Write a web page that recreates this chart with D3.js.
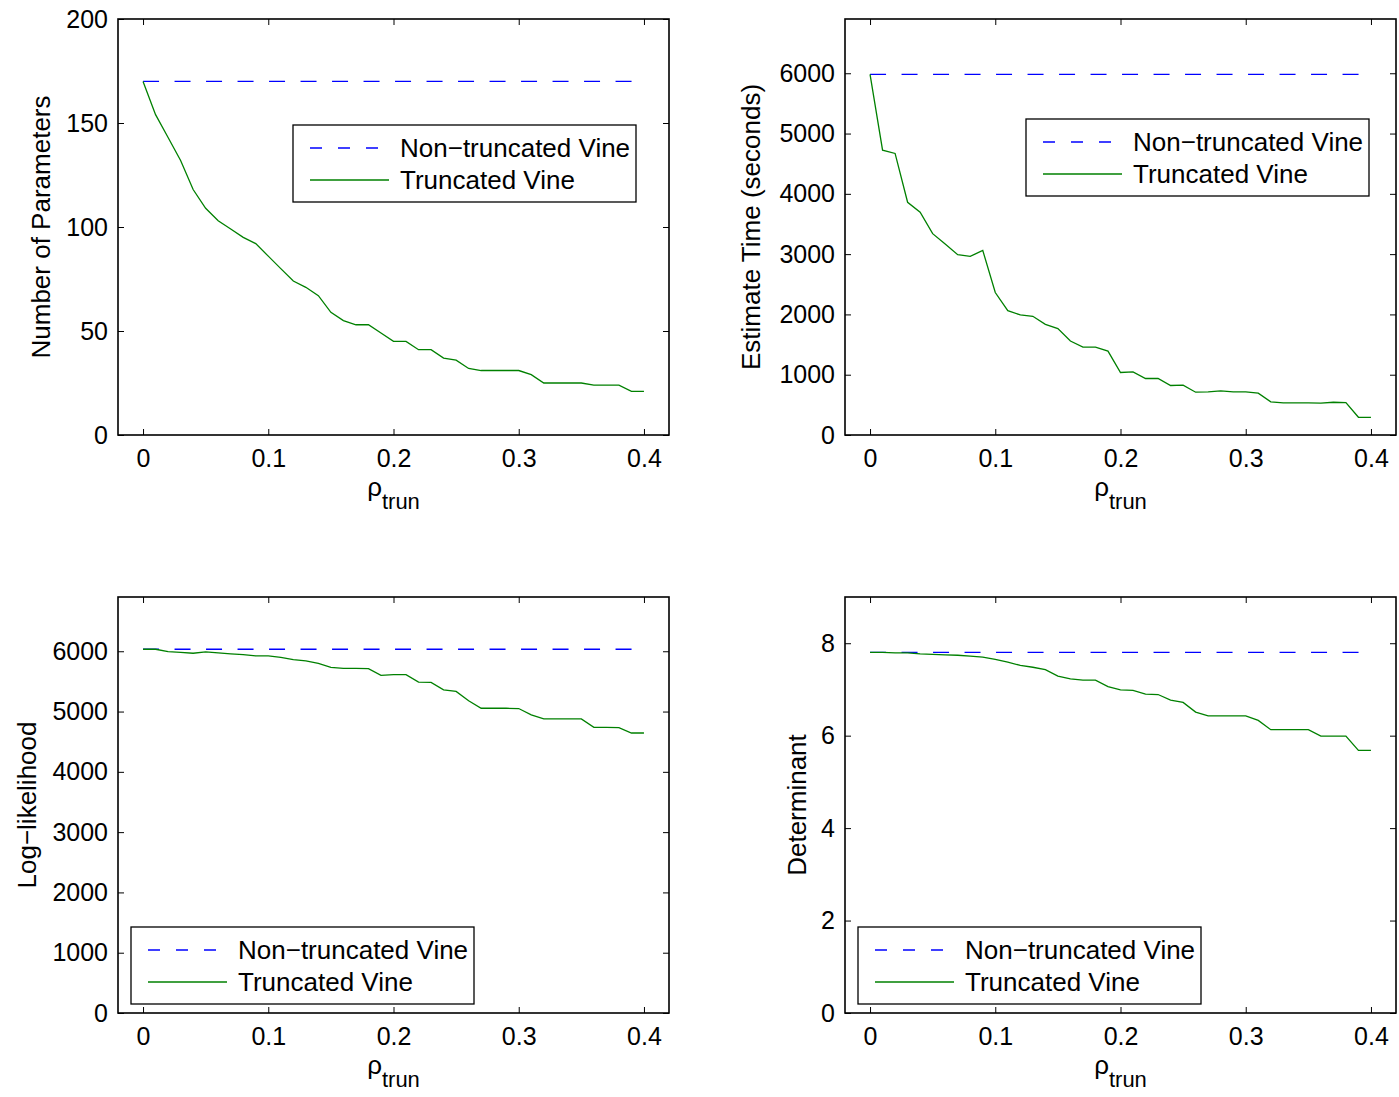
<!DOCTYPE html>
<html lang="en">
<head>
<meta charset="UTF-8">
<title>Truncated vs non-truncated vine</title>
<script src="https://d3js.org/d3.v7.min.js"></script>
<style>
  body { margin: 0; background: #fff; }
  svg { display: block; font-family: "Liberation Sans", Arial, sans-serif; }
</style>
</head>
<body>
<div id="chart"></div>
<script>
// rho_trun values along the x axis
const rho = [0, 0.01, 0.02, 0.03, 0.04, 0.05, 0.06, 0.07, 0.08, 0.09, 0.10,
  0.11, 0.12, 0.13, 0.14, 0.15, 0.16, 0.17, 0.18, 0.19, 0.20,
  0.21, 0.22, 0.23, 0.24, 0.25, 0.26, 0.27, 0.28, 0.29, 0.30,
  0.31, 0.32, 0.33, 0.34, 0.35, 0.36, 0.37, 0.38, 0.39, 0.40];
const xTicks = [0, 0.1, 0.2, 0.3, 0.4];

// number of parameters
const paramsFull = 170;
const paramsTrunc = [170, 154, 143, 132, 118, 109, 103, 99, 95, 92, 86, 80, 74, 71, 67, 59, 55, 53, 53, 49, 45,
  45, 41, 41, 37, 36, 32, 31, 31, 31, 31, 29, 25, 25, 25, 25, 24, 24, 24, 21, 21];
const paramsTicks = [0, 50, 100, 150, 200];

// estimation time (seconds)
const timeFull = 5980;
const timeTrunc = [5980, 4725, 4670, 3860, 3694, 3339, 3167, 2990, 2962, 3062, 2363, 2063, 1991, 1969, 1836, 1764,
  1558, 1459, 1459, 1392, 1037, 1048, 937, 937, 821, 826, 710, 715, 732, 715, 715, 693, 549, 532, 532, 532,
  530, 543, 538, 294, 294];
const timeTicks = [0, 1000, 2000, 3000, 4000, 5000, 6000];

// log-likelihood
const loglikFull = 6033;
const loglikTrunc = [6033, 6033, 5994, 5983, 5967, 5989, 5972, 5956, 5944, 5922, 5922, 5900, 5861, 5839, 5800, 5733,
  5717, 5717, 5711, 5600, 5611, 5611, 5489, 5483, 5361, 5333, 5178, 5055, 5055, 5055, 5050, 4944, 4878, 4878,
  4878, 4878, 4739, 4739, 4733, 4644, 4644];
const loglikTicks = [0, 1000, 2000, 3000, 4000, 5000, 6000];

// determinant
const detFull = 7.80;
const detTrunc = [7.80, 7.80, 7.79, 7.79, 7.77, 7.76, 7.75, 7.74, 7.72, 7.70, 7.65, 7.59, 7.52, 7.48, 7.43, 7.29,
  7.23, 7.20, 7.20, 7.06, 6.99, 6.98, 6.90, 6.89, 6.77, 6.72, 6.51, 6.43, 6.43, 6.43, 6.43, 6.33, 6.13, 6.13,
  6.13, 6.13, 5.99, 5.99, 5.99, 5.68, 5.68];
const detTicks = [0, 2, 4, 6, 8];

const legendLabels = ["Non\u2212truncated Vine", "Truncated Vine"];

const W = 1399, H = 1097;
const pw = 551, ph = 416;
const blue = "#0000ff", green = "#008000";

const panels = [
  { left: 118, top: 19, full: paramsFull, trunc: paramsTrunc, yMax: 200, ticks: paramsTicks,
    label: "Number of Parameters", labelOff: 68, lx: 175, ly: 106 },
  { left: 845, top: 19, full: timeFull, trunc: timeTrunc, yMax: 6900, ticks: timeTicks,
    label: "Estimate Time (seconds)", labelOff: 85, lx: 181, ly: 100 },
  { left: 118, top: 597, full: loglikFull, trunc: loglikTrunc, yMax: 6900, ticks: loglikTicks,
    label: "Log\u2212likelihood", labelOff: 82, lx: 13, ly: 330 },
  { left: 845, top: 597, full: detFull, trunc: detTrunc, yMax: 9, ticks: detTicks,
    label: "Determinant", labelOff: 39, lx: 13, ly: 330 }
];

const svg = d3.select("#chart").append("svg")
  .attr("width", W)
  .attr("height", H);
svg.append("rect").attr("width", W).attr("height", H).attr("fill", "#fff");

panels.forEach(p => {
  const x = d3.scaleLinear().domain([-0.02, 0.42]).range([0, pw]);
  const y = d3.scaleLinear().domain([0, p.yMax]).range([ph, 0]);
  const g = svg.append("g").attr("transform", `translate(${p.left},${p.top})`);

  // axes, ticks point inward and are mirrored on top / right
  const styleAxis = (sel, labels) => {
    sel.select(".domain").remove();
    sel.selectAll(".tick line").attr("stroke", "#000").attr("stroke-width", 1);
    sel.selectAll(".tick text")
      .attr("fill", labels ? "#000" : "none")
      .attr("font-size", 25)
      .attr("font-family", "Liberation Sans, Arial, sans-serif");
  };
  g.append("g").attr("transform", `translate(0,${ph})`)
    .call(d3.axisBottom(x).tickValues(xTicks).tickSize(-6).tickPadding(14).tickFormat(d3.format("")))
    .call(s => styleAxis(s, true));
  g.append("g")
    .call(d3.axisTop(x).tickValues(xTicks).tickSize(-6).tickFormat(""))
    .call(s => styleAxis(s, false));
  g.append("g")
    .call(d3.axisLeft(y).tickValues(p.ticks).tickSize(-6).tickPadding(10).tickFormat(d3.format("")))
    .call(s => styleAxis(s, true));
  g.append("g").attr("transform", `translate(${pw},0)`)
    .call(d3.axisRight(y).tickValues(p.ticks).tickSize(-6).tickFormat(""))
    .call(s => styleAxis(s, false));

  // lines
  const line = d3.line().x((d, i) => x(rho[i])).y(d => y(d));
  g.append("path")
    .datum(rho.map(() => p.full))
    .attr("d", line)
    .attr("fill", "none")
    .attr("stroke", blue)
    .attr("stroke-width", 1.3)
    .attr("stroke-dasharray", "16,15.5");
  g.append("path")
    .datum(p.trunc)
    .attr("d", line)
    .attr("fill", "none")
    .attr("stroke", green)
    .attr("stroke-width", 1.3);

  // box
  g.append("rect")
    .attr("width", pw).attr("height", ph)
    .attr("fill", "none").attr("stroke", "#000").attr("stroke-width", 1.6);

  // x label: rho_trun
  const xl = g.append("text")
    .attr("x", pw / 2)
    .attr("y", ph + 61)
    .attr("text-anchor", "middle")
    .attr("font-size", 26);
  xl.append("tspan").text("\u03c1");
  xl.append("tspan").attr("dy", 13).attr("font-size", 22).text("trun");

  // y label
  g.append("text")
    .attr("transform", `translate(${-p.labelOff},${ph / 2}) rotate(-90)`)
    .attr("text-anchor", "middle")
    .attr("font-size", 26)
    .text(p.label);

  // legend
  const lg = g.append("g").attr("transform", `translate(${p.lx},${p.ly})`);
  lg.append("rect")
    .attr("width", 343).attr("height", 77)
    .attr("fill", "#fff").attr("stroke", "#000").attr("stroke-width", 1.3);
  legendLabels.forEach((t, i) => {
    const cy = 23 + i * 32;
    lg.append("line")
      .attr("x1", 17).attr("x2", 96).attr("y1", cy).attr("y2", cy)
      .attr("stroke", i === 0 ? blue : green)
      .attr("stroke-width", 1.3)
      .attr("stroke-dasharray", i === 0 ? "12,16" : null);
    lg.append("text")
      .attr("x", 107).attr("y", cy + 9)
      .attr("font-size", 26)
      .text(t);
  });
});
</script>
</body>
</html>
